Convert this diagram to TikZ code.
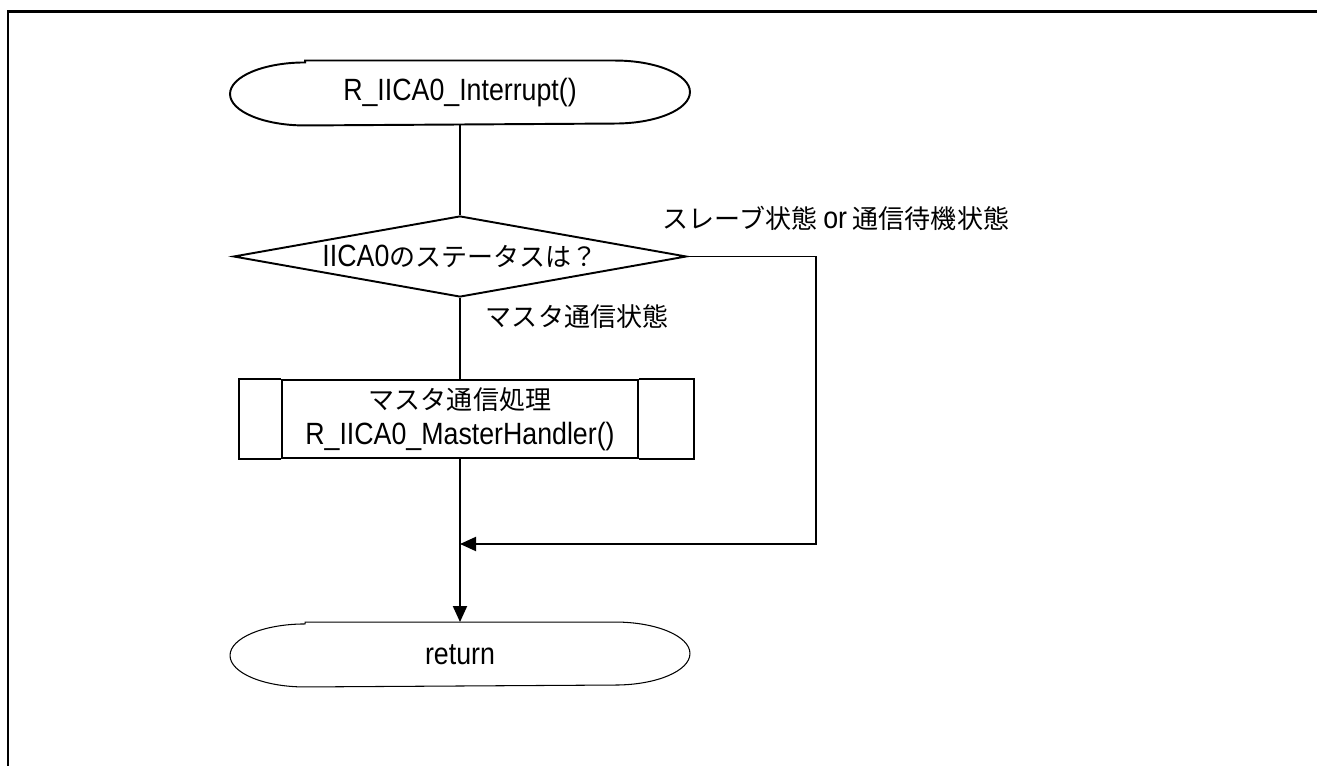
\documentclass[tikz,border=0pt]{standalone}
\usepackage{fontspec}
\setmainfont{Liberation Sans}[FakeStretch=0.87]
\newfontfamily\jp{Noto Sans CJK JP}[Scale=0.846]
\usetikzlibrary{arrows.meta,shapes.geometric,positioning}

% outline of a terminal (capsule with flat elliptic ends)
\newcommand{\capsule}[2]{%
	\draw[line width=#2] ([xshift=1.5cm]#1.north west) -- ([xshift=-1.5cm]#1.north east)
	arc[start angle=90, end angle=-90, x radius=1.5cm, y radius=0.63cm]
	-- ([xshift=1.5cm]#1.south west)
	arc[start angle=270, end angle=90, x radius=1.5cm, y radius=0.63cm] -- cycle;}

\begin{document}
\begin{tikzpicture}[>={Triangle[length=0.32cm,width=0.28cm]},
	line width=1.1pt,
	font=\fontsize{17.5}{20}\selectfont,
	term/.style = {inner sep=0pt, minimum width=9.16cm, minimum height=1.26cm},
	decide/.style = {diamond, draw, inner sep=0pt, aspect=5.6, minimum width=9.06cm, minimum height=1.62cm},
	proc/.style = {draw, inner sep=0pt, minimum width=7.12cm, minimum height=1.56cm, align=center},
	lbl/.style = {inner sep=0pt, font=\fontsize{17.5}{20}\selectfont\jp}
	]
	\useasboundingbox (0,0) rectangle (26.34,15.32);
	\draw[line width=1.2pt] (0.16,0) -- (0.16,15.09) -- (26.34,15.09);
	
	\node (start) [term] at (9.2,13.46) {R\_IICA0\_Interrupt()};
	\node (dec)   [decide] at (9.2,10.19) {IICA0{\jp のステータスは？}};
	\node (sub)   [proc] at (9.2,6.94) {{\jp マスタ通信処理}\\R\_IICA0\_MasterHandler()};
	\node (ret)   [term] at (9.2,2.23) {return};
	\capsule{start}{1.1pt}
	\capsule{ret}{0.6pt}
	
	% subroutine side bars
	\draw (sub.north west) -- ++(-0.84,0) |- (sub.south west);
	\draw (sub.north east) -- ++(1.1,0) |- (sub.south east);
	
	\coordinate (join) at (9.2,4.44);
	\coordinate (corner) at (16.32,4.44);
	
	\node (noLbl)  [lbl] at (16.72,10.96) {スレーブ状態 {\normalfont or} 通信待機状態};
	\node (yesLbl) [lbl, anchor=west] at (9.7,8.98) {マスタ通信状態};
	
	\draw (start) -- (dec);
	\draw (dec) -- (sub);
	\draw[->] (sub) -- (ret);
	\draw[->] (dec.east) -| (corner) -- (join);
\end{tikzpicture}
\end{document}
